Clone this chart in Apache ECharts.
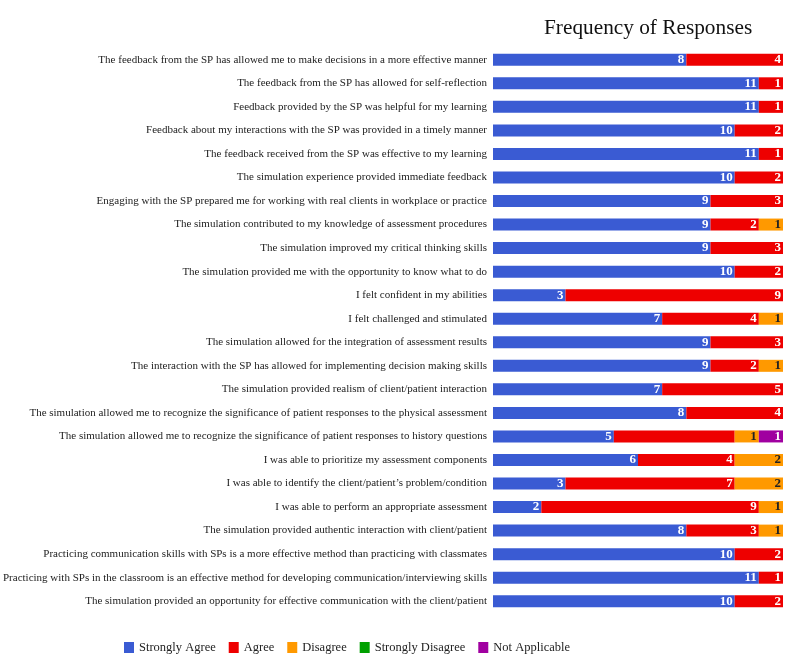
<!DOCTYPE html>
<html>
<head>
<meta charset="utf-8">
<script src="https://cdn.jsdelivr.net/npm/echarts@6/dist/echarts.min.js"></script>
<style>html,body{margin:0;padding:0;background:#fff}#c{width:800px;height:654px}</style>
</head>
<body>
<div id="c"></div>
<script>
const categories = [
  "The feedback from the SP has allowed me to make decisions in a more effective manner",
  "The feedback from the SP has allowed for self-reflection",
  "Feedback provided by the SP was helpful for my learning",
  "Feedback about my interactions with the SP was provided in a timely manner",
  "The feedback received from the SP was effective to my learning",
  "The simulation experience provided immediate feedback",
  "Engaging with the SP prepared me for working with real clients in workplace or practice",
  "The simulation contributed to my knowledge of assessment procedures",
  "The simulation improved my critical thinking skills",
  "The simulation provided me with the opportunity to know what to do",
  "I felt confident in my abilities",
  "I felt challenged and stimulated",
  "The simulation allowed for the integration of assessment results",
  "The interaction with the SP has allowed for implementing decision making skills",
  "The simulation provided realism of client/patient interaction",
  "The simulation allowed me to recognize the significance of patient responses to the physical assessment",
  "The simulation allowed me to recognize the significance of patient responses to history questions",
  "I was able to prioritize my assessment components",
  "I was able to identify the client/patient\u2019s problem/condition",
  "I was able to perform an appropriate assessment",
  "The simulation provided authentic interaction with client/patient",
  "Practicing communication skills with SPs is a more effective method than practicing with classmates",
  "Practicing with SPs in the classroom is an effective method for developing communication/interviewing skills",
  "The simulation provided an opportunity for effective communication with the client/patient"
];
const stronglyAgree    = [8,11,11,10,11,10,9,9,9,10,3,7,9,9,7,8,5,6,3,2,8,10,11,10];
const agree            = [4,1,1,2,1,2,3,2,3,2,9,4,3,2,5,4,5,4,7,9,3,2,1,2];
const disagree         = [0,0,0,0,0,0,0,1,0,0,0,1,0,1,0,0,1,2,2,1,1,0,0,0];
const stronglyDisagree = [0,0,0,0,0,0,0,0,0,0,0,0,0,0,0,0,0,0,0,0,0,0,0,0];
const notApplicable    = [0,0,0,0,0,0,0,0,0,0,0,0,0,0,0,0,1,0,0,0,0,0,0,0];
const seriesNames = ["Strongly Agree","Agree","Disagree","Strongly Disagree","Not Applicable"];
const hiddenLabels = {1: [16]}; // agree label not shown in row 17 of the reference

const FONT = "'Liberation Serif','Times New Roman',serif";
const colors = ['#3a5bd3','#ee0000','#ff9900','#00a000','#a000a0'];
const labelColors = ['#fff','#fff','#222','#fff','#fff'];
const all = [stronglyAgree, agree, disagree, stronglyDisagree, notApplicable];

const chart = echarts.init(document.getElementById('c'));
chart.setOption({
  animation: false,
  color: colors,
  title: {
    text: 'Frequency of Responses',
    left: 539, top: 13,
    textStyle: {fontFamily: FONT, fontSize: 21.3, fontWeight: 'normal', color: '#111'}
  },
  legend: {
    data: seriesNames,
    left: 119, top: 636,
    itemWidth: 10, itemHeight: 11, itemGap: 13,
    icon: 'rect',
    textStyle: {fontFamily: FONT, fontSize: 12.5, color: '#222'}
  },
  grid: {left: 493, right: 17, top: 48, bottom: 41, containLabel: false, outerBoundsMode: 'none'},
  xAxis: {type: 'value', min: 0, max: 12, show: false},
  yAxis: {
    type: 'category', data: categories, inverse: true,
    axisLine: {show: false}, axisTick: {show: false},
    axisLabel: {fontFamily: FONT, fontSize: 11, color: '#222', margin: 6}
  },
  series: all.map((arr, si) => ({
    name: seriesNames[si],
    type: 'bar', stack: 'total', barWidth: 12,
    itemStyle: {color: colors[si]},
    label: {
      show: true, position: 'insideRight', distance: 2,
      fontFamily: FONT, fontSize: 13, fontWeight: 'bold', color: labelColors[si],
      formatter: p => p.value > 0 ? String(p.value) : ''
    },
    data: arr.map((v, i) => (hiddenLabels[si] && hiddenLabels[si].includes(i))
      ? {value: v, label: {show: false}} : (v > 0 ? v : null))
  }))
});
</script>
</body>
</html>
